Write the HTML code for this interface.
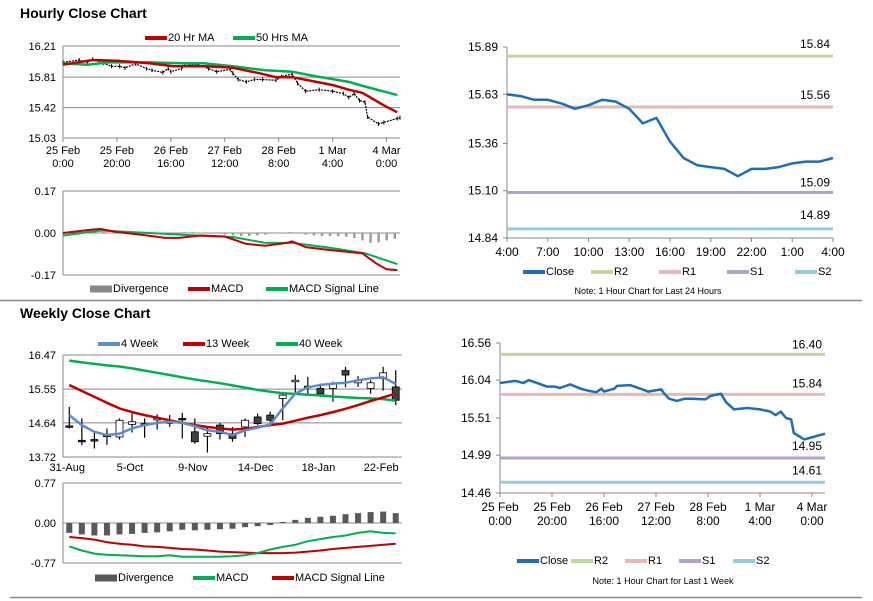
<!DOCTYPE html>
<html><head><meta charset="utf-8"><style>
html,body{margin:0;padding:0;background:#fff;}
svg{display:block;font-family:"Liberation Sans",Arial,sans-serif;}
text{font-size:11px;fill:#000;}
.t{font-size:14px;font-weight:bold;}
</style></head><body>
<svg id="s" width="873" height="601" viewBox="0 0 873 601" xmlns="http://www.w3.org/2000/svg">
<line x1="0" y1="300.5" x2="862" y2="300.5" stroke="#888" stroke-width="1.5"/>
<line x1="10" y1="597.5" x2="862" y2="597.5" stroke="#888" stroke-width="1.5"/>
<text class="t" x="20" y="18">Hourly Close Chart</text>
<text class="t" x="20" y="318">Weekly Close Chart</text>
</svg>
<script>
// ---- data ----
const hourlyHours=[0,6,9,11,15,18,21,23,27,31,33,37,39,40,44,45,50,54,57,62,63,65,68,71,74,79,81,85,87,90,95,100,104,106,108,110,112,113,117,119,124,125];
const hourlyClose=[16.00,16.03,16.00,16.04,15.99,15.95,15.95,15.93,15.98,15.92,15.90,15.87,15.92,15.88,15.92,15.96,15.97,15.92,15.88,15.91,15.86,15.78,15.75,15.78,15.78,15.77,15.82,15.85,15.73,15.63,15.65,15.63,15.60,15.55,15.60,15.51,15.49,15.30,15.21,15.23,15.28,15.29];
const ma20Hours=[0,11,20,32,41,53,63,73,79,85,94,100,106,111,119,124];
const ma20Values=[15.97,16.03,16.02,15.99,15.95,15.95,15.93,15.86,15.81,15.81,15.75,15.71,15.65,15.61,15.45,15.36];
const ma50Hours=[0,9,17,32,44,52,63,75,85,94,106,112,124];
const ma50Values=[15.99,15.97,16.00,16.00,15.99,15.99,15.95,15.90,15.88,15.82,15.75,15.69,15.58];
const hMacdHours=[0,11,14,20,29,38,43,51,60,68,75,83,85,90,98,107,111,116,120,124];
const hMacdValues=[0.00,0.014,0.016,0.004,-0.007,-0.02,-0.02,-0.01,-0.014,-0.044,-0.052,-0.04,-0.034,-0.057,-0.068,-0.078,-0.082,-0.122,-0.147,-0.15];
const hSigHours=[0,14,32,51,63,75,85,100,112,124];
const hSigValues=[-0.01,0.01,0,-0.011,-0.016,-0.04,-0.04,-0.061,-0.082,-0.126];
const hDivValues=[0.004,0.006,0.008,0.008,0.006,0.004,0.002,0,-0.002,-0.004,-0.005,-0.004,-0.002,0,0.002,0.003,0.003,0.002,0.001,-0.002,-0.006,-0.01,-0.012,-0.012,-0.01,-0.006,-0.002,0.002,0.004,0.001,-0.006,-0.01,-0.012,-0.012,-0.013,-0.015,-0.02,-0.03,-0.04,-0.038,-0.03,-0.024];
const hourTickLabels=[["25 Feb","0:00"],["25 Feb","20:00"],["26 Feb","16:00"],["27 Feb","12:00"],["28 Feb","8:00"],["1 Mar","4:00"],["4 Mar","0:00"]];
const hourTickHours=[0,20,40,60,80,100,120];
const dayClose=[15.63,15.62,15.60,15.60,15.58,15.55,15.57,15.60,15.59,15.55,15.47,15.50,15.37,15.28,15.24,15.23,15.22,15.18,15.22,15.22,15.23,15.25,15.26,15.26,15.28];
const dayTickLabels=["4:00","7:00","10:00","13:00","16:00","19:00","22:00","1:00","4:00"];
const dayLevels=[15.84,15.56,15.09,14.89];
const weekLevels=[16.40,15.84,14.95,14.61];
const levelNames=["R2","R1","S1","S2"];
const wkLabels=["31-Aug","5-Oct","9-Nov","14-Dec","18-Jan","22-Feb"];
const wkLabelIdx=[0,5,10,15,20,25];
const wkOpen=[14.56,14.17,14.19,14.31,14.26,14.60,14.62,14.75,14.67,14.76,14.40,14.28,14.58,14.35,14.53,14.80,14.85,15.30,15.76,15.63,15.57,15.57,16.05,15.72,15.57,15.84,15.61];
const wkHigh=[15.07,14.76,14.40,14.49,14.76,14.89,14.76,14.87,14.85,14.91,14.76,14.53,14.64,14.53,14.76,14.89,14.94,15.48,15.93,15.88,15.70,15.75,16.15,15.90,15.79,16.15,16.06];
const wkLow=[14.49,14.04,13.95,14.05,14.19,14.38,14.24,14.46,14.53,14.22,14.08,13.84,14.19,14.13,14.26,14.58,14.67,14.71,15.45,15.43,15.34,15.21,15.60,15.61,15.43,15.51,15.12];
const wkClose=[14.54,14.15,14.17,14.30,14.71,14.67,14.61,14.76,14.66,14.74,14.13,14.35,14.35,14.22,14.71,14.62,14.71,15.39,15.79,15.62,15.42,15.70,15.93,15.79,15.72,15.99,15.25];
const wk4=[14.85,14.58,14.40,14.31,14.35,14.49,14.58,14.64,14.67,14.64,14.55,14.44,14.40,14.31,14.44,14.51,14.60,15.03,15.43,15.60,15.66,15.70,15.72,15.79,15.84,15.87,15.69];
const wk13=[15.66,15.50,15.34,15.18,15.03,14.93,14.85,14.78,14.71,14.64,14.58,14.53,14.49,14.46,14.48,14.53,14.58,14.62,14.70,14.78,14.85,14.93,15.02,15.12,15.23,15.33,15.43];
const wk40=[16.32,16.27,16.23,16.19,16.16,16.11,16.05,15.99,15.93,15.87,15.81,15.76,15.71,15.65,15.59,15.53,15.48,15.44,15.42,15.40,15.38,15.35,15.33,15.31,15.30,15.28,15.24];
const wkDiv=[-0.19,-0.22,-0.24,-0.24,-0.22,-0.21,-0.19,-0.18,-0.16,-0.13,-0.14,-0.13,-0.12,-0.11,-0.08,-0.06,-0.04,0.02,0.06,0.10,0.12,0.14,0.17,0.19,0.21,0.22,0.19];
const wkMacd=[-0.45,-0.53,-0.59,-0.61,-0.62,-0.63,-0.64,-0.64,-0.62,-0.65,-0.65,-0.65,-0.65,-0.64,-0.62,-0.58,-0.51,-0.46,-0.42,-0.35,-0.31,-0.27,-0.24,-0.19,-0.16,-0.19,-0.20];
const wkSig=[-0.27,-0.29,-0.32,-0.37,-0.40,-0.42,-0.45,-0.46,-0.48,-0.50,-0.51,-0.53,-0.55,-0.56,-0.57,-0.58,-0.58,-0.58,-0.57,-0.55,-0.53,-0.50,-0.48,-0.46,-0.44,-0.42,-0.40];

// ---- helpers ----
const S=document.getElementById('s');const NS='http://www.w3.org/2000/svg';
function mk(tag,attrs,parent){const e=document.createElementNS(NS,tag);for(const k in attrs)e.setAttribute(k,attrs[k]);(parent||S).appendChild(e);return e;}
function txt(x,y,s,anchor,parent,size){const e=mk('text',{x:x,y:y,'text-anchor':anchor||'start'},parent);if(size)e.style.fontSize=size+'px';e.textContent=s;return e;}
function lin(d0,d1,r0,r1){return v=>r0+(v-d0)/(d1-d0)*(r1-r0);}
function poly(xs,ys,fx,fy,color,w,parent){return mk('polyline',{points:xs.map((x,i)=>fx(x).toFixed(1)+','+fy(ys[i]).toFixed(1)).join(' '),fill:'none',stroke:color,'stroke-width':w,'stroke-linejoin':'round'},parent);}
function grid(x0,x1,y,parent){return mk('line',{x1:x0,x2:x1,y1:y,y2:y,stroke:'#888','stroke-width':1},parent);}
function legendItem(x,y,color,label,parent,h){mk('rect',{x:x,y:y-(h||4)/2-3,width:22,height:h||4,fill:color},parent);txt(x+23,y,label,'start',parent);}
const RED='#c00000',GRN='#00b050',BLUE='#1f6eb5',GRAY='#888';
const LC=['#c3d69b','#e6b9b8','#b3a2c7','#93cddd'];

// ===== Hourly close chart (top-left) =====
let g=mk('g',{});


let hx=lin(0,125,63,400), hy=lin(15.03,16.21,138,46);
[16.21,15.81,15.42,15.03].forEach(v=>{grid(63,400,hy(v),g);txt(56,hy(v)+4,v.toFixed(2),'end',g);});
mk('line',{x1:63,x2:63,y1:46,y2:138,stroke:GRAY},g);
hourTickHours.forEach((h,i)=>{mk('line',{x1:hx(h),x2:hx(h),y1:138,y2:142,stroke:GRAY},g);txt(hx(h),154,hourTickLabels[i][0],'middle',g);txt(hx(h),167,hourTickLabels[i][1],'middle',g);});
let cl=poly(hourlyHours,hourlyClose,hx,hy,'#000',1.2,g);
cl.setAttribute('stroke-dasharray','2 1');


hourlyHours.forEach((h,i)=>{const t=mk('line',{x1:hx(h),x2:hx(h),y1:hy(hourlyClose[i])-2,y2:hy(hourlyClose[i])+2,stroke:'#000'},g);

});
let p=poly(ma50Hours,ma50Values,hx,hy,GRN,2.5,g);


p=poly(ma20Hours,ma20Values,hx,hy,RED,2.5,g);


legendItem(145,41,RED,'20 Hr MA',g);legendItem(233,41,GRN,'50 Hrs MA',g);

// hourly MACD
g=mk('g',{});


let my=lin(-0.17,0.17,275,191);
[0.17,0,-0.17].forEach(v=>{grid(63,400,my(v),g);txt(56,my(v)+4,v.toFixed(2),'end',g);});
mk('line',{x1:63,x2:63,y1:191,y2:275,stroke:GRAY},g);
hDivValues.forEach((v,i)=>{const x=hx(i*3);const b=mk('rect',{x:x-1,y:Math.min(my(0),my(v)),width:2.4,height:Math.abs(my(v)-my(0)),fill:'#999'},g);

});
p=poly(hSigHours,hSigValues,hx,my,GRN,2,g);


p=poly(hMacdHours,hMacdValues,hx,my,RED,2,g);


legendItem(90,292,GRAY,'Divergence',g,7);legendItem(188,292,RED,'MACD',g);legendItem(266,292,GRN,'MACD Signal Line',g);

// ===== Level charts (right) =====
function levelChart(name,x0,x1,yTop,yBot,vTop,vBot,ticks,xs,vals,levels,labelDy,xLabels,xLabelPos,legY,note){
  const gg=mk('g',{});
  
  
  const fy=lin(vBot,vTop,yBot,yTop);
  ticks.forEach(v=>{mk('line',{x1:x0-4,x2:x0,y1:fy(v),y2:fy(v),stroke:GRAY},gg);txt(x0-9,fy(v)+4,v.toFixed(2),'end',gg,12);});
  mk('line',{x1:x0,x2:x0,y1:yTop,y2:yBot,stroke:GRAY},gg);
  mk('line',{x1:x0,x2:x1,y1:yBot,y2:yBot,stroke:GRAY},gg);
  levels.forEach((v,i)=>{const l=mk('line',{x1:x0,x2:x1,y1:fy(v),y2:fy(v),stroke:LC[i],'stroke-width':3},gg);
   
   
   txt(x1-3,fy(v)-labelDy[i],v.toFixed(2),'end',gg,12);});
  xLabels.forEach((lab,i)=>{const x=xLabelPos[i];mk('line',{x1:x,x2:x,y1:yBot,y2:yBot+4,stroke:GRAY},gg);
   if(Array.isArray(lab)){txt(x,yBot+18,lab[0],'middle',gg,12);txt(x,yBot+32,lab[1],'middle',gg,12);}else txt(x,yBot+18,lab,'middle',gg,12);});
  return {gg,fy};
}
let tr=levelChart('day-levels-panel',507,833,47,238,15.89,14.84,[15.89,15.63,15.36,15.10,14.84],null,null,dayLevels,[8,8,6,10],dayTickLabels,dayTickLabels.map((_,i)=>507+i*(326/8)));
let dx=lin(0,24,507,833);
p=poly(dayClose.map((_,i)=>i),dayClose,dx,tr.fy,BLUE,2.5,tr.gg);


[['Close',BLUE],['R2',LC[0]],['R1',LC[1]],['S1',LC[2]],['S2',LC[3]]].forEach((it,i)=>legendItem(523+i*68,275,it[1],it[0],tr.gg));
tr.gg.lastChild;
let n=txt(648,294,'Note: 1 Hour Chart for Last 24 Hours','middle',tr.gg,9);



let br=levelChart('week-levels-panel',500,825,343,493,16.56,14.46,[16.56,16.04,15.51,14.99,14.46],null,null,weekLevels,[6,7,8,8],hourTickLabels,hourTickHours.map(h=>500+h*2.6));
let bx=lin(0,125,500,825);
p=poly(hourlyHours,hourlyClose,bx,br.fy,BLUE,2.5,br.gg);


[['Close',BLUE],['R2',LC[0]],['R1',LC[1]],['S1',LC[2]],['S2',LC[3]]].forEach((it,i)=>legendItem(517+i*54,564,it[1],it[0],br.gg));
n=txt(663,584,'Note: 1 Hour Chart for Last 1 Week','middle',br.gg,9);



// ===== Weekly candle chart (bottom-left) =====
g=mk('g',{});


const bw=(402-63)/27;
const wx=i=>63+bw*(i+0.5);
let wy=lin(13.72,16.47,457,355);
[16.47,15.55,14.64,13.72].forEach(v=>{grid(63,402,wy(v),g);txt(56,wy(v)+4,v.toFixed(2),'end',g);});
mk('line',{x1:63,x2:63,y1:355,y2:457,stroke:GRAY},g);
wkLabelIdx.forEach((k,i)=>txt(wx(k)-2,471,wkLabels[i],'middle',g));
wkOpen.forEach((o,i)=>{const c=wkClose[i];const x=wx(i);
  const w=mk('line',{x1:x,x2:x,y1:wy(wkHigh[i]),y2:wy(wkLow[i]),stroke:'#000','stroke-width':1.2},g);
  
  
  const top=wy(Math.max(o,c)),h=Math.max(1.5,Math.abs(wy(o)-wy(c)));
  const b=mk('rect',{x:x-3.5,y:top,width:7,height:h,fill:c>=o?'#fff':'#404040',stroke:'#000','stroke-width':0.8},g);
  
  });
const idx=wkOpen.map((_,i)=>i);
p=poly(idx,wk40,wx,wy,GRN,2.5,g);


p=poly(idx,wk13,wx,wy,RED,2.5,g);


p=poly(idx,wk4,wx,wy,'#5b8ec9',2.5,g);


legendItem(98,347,'#5b8ec9','4 Week',g);legendItem(183,347,RED,'13 Week',g);legendItem(276,347,GRN,'40 Week',g);

// weekly MACD
g=mk('g',{});


let wmy=lin(-0.77,0.77,563,483);
[0.77,0,-0.77].forEach(v=>{grid(63,402,wmy(v),g);txt(56,wmy(v)+4,v.toFixed(2),'end',g);});
mk('line',{x1:63,x2:63,y1:483,y2:563,stroke:GRAY},g);
wkDiv.forEach((v,i)=>{const b=mk('rect',{x:wx(i)-3,y:Math.min(wmy(0),wmy(v)),width:6,height:Math.abs(wmy(v)-wmy(0)),fill:'#595959'},g);
 
 });
p=poly(idx,wkSig,wx,wmy,RED,2,g);


p=poly(idx,wkMacd,wx,wmy,GRN,2,g);


legendItem(95,581,'#595959','Divergence',g,7);legendItem(193,581,GRN,'MACD',g);legendItem(272,581,RED,'MACD Signal Line',g);
</script>
</body></html>
